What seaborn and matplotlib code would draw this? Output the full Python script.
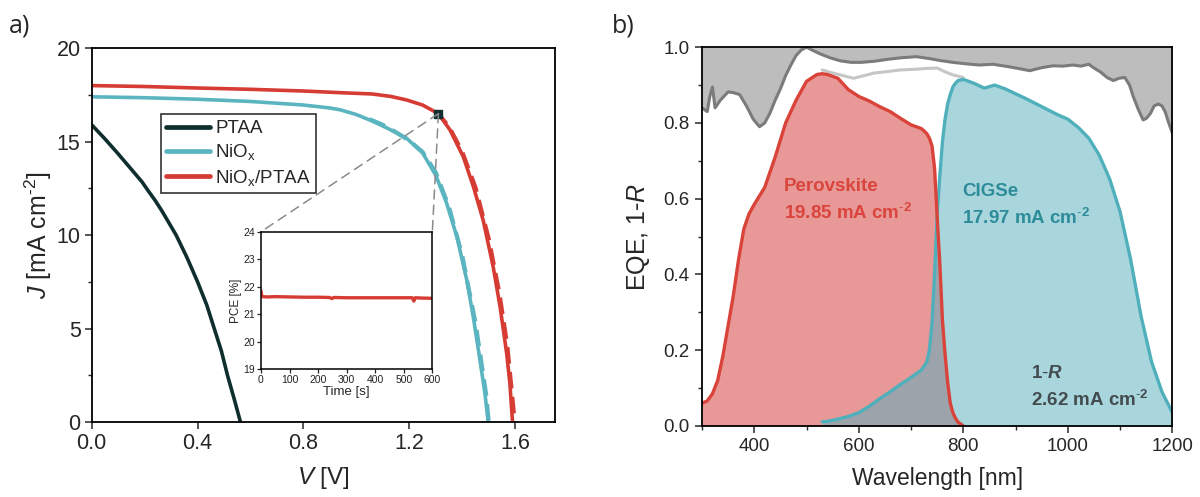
import numpy as np
import seaborn as sns
import matplotlib.pyplot as plt
from matplotlib.patches import ConnectionPatch
from matplotlib.ticker import MultipleLocator

# ---- panel a: J-V curves ----
v_ptaa = [0, 0.03, 0.05, 0.1, 0.13, 0.163, 0.19, 0.212, 0.24, 0.265, 0.29, 0.319, 0.36, 0.40, 0.435, 0.463,
          0.49, 0.513, 0.539, 0.562]
j_ptaa = [15.9, 15.45, 15.15, 14.35, 13.85, 13.3, 12.85, 12.4, 11.85, 11.3, 10.7, 10.0, 8.8, 7.5, 6.25, 5.0,
          3.8, 2.5, 1.2, 0.0]

v_niox = [0, 0.2, 0.4, 0.6, 0.8, 0.9, 0.94, 1.0, 1.06, 1.12, 1.19, 1.25, 1.30, 1.34, 1.38, 1.417, 1.442, 1.467, 1.486, 1.498]
j_niox = [17.4, 17.35, 17.27, 17.15, 16.96, 16.8, 16.7, 16.45, 16.1, 15.7, 15.18, 14.4, 13.2, 11.75, 9.9, 7.6, 5.6, 3.3, 1.5, 0.0]
v_niox_rev = [1.05, 1.1, 1.15, 1.2, 1.25, 1.3, 1.35, 1.4, 1.45, 1.49, 1.5]
j_niox_rev = [16.2, 15.9, 15.5, 15.05, 14.45, 13.35, 11.5, 8.9, 5.3, 1.5, 0.0]

v_both = [0, 0.2, 0.4, 0.6, 0.8, 0.94, 1.06, 1.13, 1.19, 1.25, 1.31, 1.354, 1.404, 1.442, 1.479, 1.517, 1.543, 1.568, 1.58, 1.59]
j_both = [18.0, 17.95, 17.87, 17.8, 17.71, 17.62, 17.55, 17.42, 17.23, 16.96, 16.5, 15.62, 14.19, 12.6, 10.8, 8.3, 6.16, 3.66, 2.06, 0.0]
v_both_rev = [1.3, 1.35, 1.4, 1.45, 1.5, 1.54, 1.57, 1.59, 1.598]
j_both_rev = [16.65, 15.8, 14.45, 12.55, 9.8, 6.9, 4.1, 1.2, 0.0]

mpp_v, mpp_j = 1.31, 16.5

# inset: stabilized PCE
t_pce = [0, 2, 5, 20, 50, 100, 150, 200, 240, 248, 255, 300, 350, 400, 450, 500, 530, 535, 540, 560, 600]
pce = [21.85, 21.7, 21.64, 21.63, 21.64, 21.63, 21.62, 21.62, 21.61, 21.57, 21.61, 21.6, 21.6, 21.6, 21.6,
       21.6, 21.6, 21.48, 21.6, 21.59, 21.58]

# ---- panel b: EQE ----
wl = [300, 310, 320, 330, 340, 350, 360, 370, 380, 390, 400, 420, 440, 460, 480, 500, 520, 530, 540, 560,
      580, 600, 620, 640, 660, 680, 700, 710, 720, 730, 735, 740, 745, 750, 755, 760, 765, 770, 775, 780,
      785, 790, 800, 820, 840, 860, 880, 900, 920, 940, 960, 980, 1000, 1020, 1040, 1060, 1080, 1100,
      1120, 1140, 1160, 1180, 1200]
nan = np.nan
eqe_pero = [0.060, 0.066, 0.085, 0.12, 0.185, 0.265, 0.345, 0.44, 0.52, 0.56, 0.585, 0.63, 0.71, 0.80,
            0.86, 0.91, 0.928, 0.93, 0.928, 0.918, 0.888, 0.87, 0.858, 0.843, 0.83, 0.812, 0.795, 0.79,
            0.785, 0.772, 0.76, 0.74, 0.68, 0.55, 0.43, 0.28, 0.19, 0.115, 0.06, 0.035, 0.02, 0.01, 0.0,
            nan, nan, nan, nan, nan, nan, nan, nan, nan, nan, nan, nan, nan, nan, nan, nan, nan, nan, nan, nan]
eqe_cigs = [nan, nan, nan, nan, nan, nan, nan, nan, nan, nan, nan, nan, nan, nan, nan, nan, nan,
            0.011, 0.012, 0.018, 0.025, 0.035, 0.052, 0.072, 0.09, 0.11, 0.128, 0.138, 0.148, 0.168, 0.2,
            0.27, 0.40, 0.56, 0.66, 0.75, 0.81, 0.85, 0.875, 0.895, 0.905, 0.912, 0.915, 0.905, 0.892,
            0.90, 0.89, 0.877, 0.864, 0.85, 0.836, 0.822, 0.81, 0.788, 0.76, 0.715, 0.652, 0.565, 0.44,
            0.29, 0.17, 0.09, 0.035]

wl_r = [300, 305, 310, 315, 320, 325, 335, 350, 360, 372, 385, 398, 410, 420, 430, 440, 450, 460, 470, 480,
        490, 500, 510, 525, 545, 565, 585, 605, 630, 655, 680, 710, 735, 755, 780, 806, 830, 857, 880, 905,
        927, 950, 972, 990, 1010, 1025, 1040, 1050, 1062, 1075, 1087, 1098, 1109, 1118, 1125, 1135, 1144,
        1150, 1158, 1165, 1173, 1180, 1186, 1193, 1200]
one_minus_r = [0.84, 0.835, 0.83, 0.87, 0.895, 0.84, 0.86, 0.882, 0.88, 0.875, 0.845, 0.81, 0.79, 0.80,
               0.826, 0.86, 0.89, 0.925, 0.953, 0.978, 0.993, 1.0, 0.993, 0.983, 0.972, 0.964, 0.96, 0.96,
               0.963, 0.968, 0.972, 0.975, 0.97, 0.965, 0.96, 0.956, 0.953, 0.955, 0.95, 0.944, 0.938,
               0.946, 0.951, 0.95, 0.953, 0.95, 0.955, 0.945, 0.935, 0.92, 0.912, 0.918, 0.92, 0.9, 0.87,
               0.835, 0.808, 0.812, 0.825, 0.845, 0.85, 0.845, 0.83, 0.8, 0.773]

wl_sum = [530, 550, 570, 590, 610, 630, 650, 680, 710, 730, 750, 765, 780, 800]
eqe_sum = [0.94, 0.932, 0.925, 0.918, 0.925, 0.932, 0.935, 0.94, 0.942, 0.944, 0.945, 0.935, 0.927, 0.92]

c_ptaa = "#0f2e2e"
c_niox = "#5bb5c0"
c_red = "#d63c33"

sns.set_theme(style="ticks")
plt.rcParams['font.family'] = ['Liberation Sans', 'DejaVu Sans']
plt.rcParams['mathtext.fontset'] = 'custom'
plt.rcParams['mathtext.rm'] = 'Liberation Sans'
plt.rcParams['mathtext.it'] = 'Liberation Sans:italic'
plt.rcParams['mathtext.bf'] = 'Liberation Sans:bold'
plt.rcParams['mathtext.bfit'] = 'Liberation Sans:italic:bold'

fig = plt.figure(figsize=(12, 4.97), dpi=100)
ax1 = fig.add_axes([0.0764, 0.151, 0.386, 0.752])
ax2 = fig.add_axes([0.585, 0.143, 0.392, 0.762])
axi = fig.add_axes([0.2175, 0.2569, 0.1428, 0.2769])

# panel a
sns.lineplot(x=v_niox_rev, y=j_niox_rev, ax=ax1, color=c_niox, lw=3.0, ls=(0, (4, 2)), sort=False)
sns.lineplot(x=v_both_rev, y=j_both_rev, ax=ax1, color=c_red, lw=3.0, ls=(0, (4, 2)), sort=False)
sns.lineplot(x=v_ptaa, y=j_ptaa, ax=ax1, color=c_ptaa, lw=2.6, label="PTAA", sort=False)
sns.lineplot(x=v_niox, y=j_niox, ax=ax1, color=c_niox, lw=2.6, label=r"NiO$_{\mathrm{x}}$", sort=False)
sns.lineplot(x=v_both, y=j_both, ax=ax1, color=c_red, lw=2.6, label=r"NiO$_{\mathrm{x}}$/PTAA", sort=False)
ax1.plot([mpp_v], [mpp_j], marker="s", ms=6, color="#0f2e2e", zorder=5)

ax1.set_xlim(0, 1.75)
ax1.set_ylim(0, 20)
ax1.set_xticks([0, 0.4, 0.8, 1.2, 1.6])
ax1.set_xticklabels(["0.0", "0.4", "0.8", "1.2", "1.6"])
ax1.set_yticks([0, 5, 10, 15, 20])
ax1.yaxis.set_minor_locator(MultipleLocator(2.5))
ax1.tick_params(axis="both", which="major", direction="out", length=5, width=1.1, labelsize=15.5, pad=3)
ax1.tick_params(axis="y", which="minor", direction="out", length=3, width=1.0)
for s in ax1.spines.values():
    s.set_linewidth(1.3)
    s.set_color("black")
ax1.set_xlabel("$V$ [V]", fontsize=17.5, labelpad=8)
ax1.set_ylabel(r"$J$ [mA cm$^{\text{-}2}$]", fontsize=18, labelpad=2)
leg = ax1.legend(loc="upper left", bbox_to_anchor=(0.149, 0.823), fontsize=13.5, frameon=True,
                 fancybox=False, edgecolor="black", handlelength=2.35, handletextpad=0.25,
                 borderpad=0.3, labelspacing=0.28, borderaxespad=0)
leg.get_frame().set_linewidth(1.2)
for h in leg.get_lines():
    h.set_linewidth(3.4)

# inset
sns.lineplot(x=t_pce, y=pce, ax=axi, color=c_red, lw=2.4, sort=False)
axi.set_xlim(0, 600)
axi.set_ylim(19, 24)
axi.set_xticks([0, 100, 200, 300, 400, 500, 600])
axi.set_yticks([19, 20, 21, 22, 23, 24])
axi.tick_params(direction="out", length=3, width=0.9, labelsize=7.5, pad=1, colors="#222222")
for s in axi.spines.values():
    s.set_linewidth(1.1)
    s.set_color("black")
axi.set_xlabel("Time [s]", fontsize=9.5, labelpad=1)
axi.set_ylabel("PCE [%]", fontsize=8.5, labelpad=1)

for xa in (0, 1):
    con = ConnectionPatch(xyA=(mpp_v, mpp_j), coordsA=ax1.transData, xyB=(xa, 1), coordsB=axi.transAxes,
                          color="#8a8a8a", lw=1.1, ls=(0, (6, 4)), zorder=1)
    fig.add_artist(con)

# panel b
pero = np.array(eqe_pero)
cigs = np.array(eqe_cigs)
ax2.fill_between(wl_r, one_minus_r, 1.0, color="#bdbdbd", lw=0)
ax2.fill_between(wl, 0, pero, color="#e99898", lw=0)
ax2.fill_between(wl, 0, cigs, color="#a9d6dd", lw=0)
ax2.fill_between(wl, 0, np.minimum(pero, cigs), color="#9da3ab", lw=0)
sns.lineplot(x=wl_r, y=one_minus_r, ax=ax2, color="#7b7b7b", lw=2.2, sort=False)
sns.lineplot(x=wl_sum, y=eqe_sum, ax=ax2, color="#c6c6c6", lw=2.2, sort=False)
sns.lineplot(x=wl, y=eqe_cigs, ax=ax2, color="#4fb0bb", lw=2.4, sort=False)
sns.lineplot(x=wl, y=eqe_pero, ax=ax2, color="#d9433a", lw=2.4, sort=False)

ax2.set_xlim(300, 1200)
ax2.set_ylim(0, 1.0)
ax2.set_xticks([400, 600, 800, 1000, 1200])
ax2.xaxis.set_minor_locator(MultipleLocator(100))
ax2.set_yticks([0, 0.2, 0.4, 0.6, 0.8, 1.0])
ax2.set_yticklabels(["0.0", "0.2", "0.4", "0.6", "0.8", "1.0"])
ax2.yaxis.set_minor_locator(MultipleLocator(0.1))
ax2.tick_params(axis="both", which="major", direction="out", length=5, width=1.1, labelsize=13.5, pad=4)
ax2.tick_params(axis="both", which="minor", direction="out", length=3, width=1.0)
for s in ax2.spines.values():
    s.set_linewidth(1.3)
    s.set_color("black")
ax2.set_xlabel("Wavelength [nm]", fontsize=16.5, labelpad=8)
ax2.set_ylabel("EQE, 1-$R$", fontsize=18, labelpad=8)

tkw = dict(fontsize=13.5, fontweight="bold", va="center")
sup = r"$^{\mathbf{\text{-}2}}$"
ax2.text(456, 0.632, "Perovskite", color="#d9453c", **tkw)
ax2.text(456, 0.562, "19.85 mA cm" + sup, color="#d9453c", **tkw)
ax2.text(798, 0.619, "CIGSe", color="#2c8c99", **tkw)
ax2.text(798, 0.548, "17.97 mA cm" + sup, color="#2c8c99", **tkw)
ax2.text(930, 0.139, r"$\mathbf{1\text{-}}\mathbfit{R}$", color="#434b4f", **tkw)
ax2.text(930, 0.069, "2.62 mA cm" + sup, color="#434b4f", **tkw)

fig.text(0.007, 0.935, "a)", fontsize=18, family=["Open Sans", "DejaVu Sans"])
fig.text(0.51, 0.935, "b)", fontsize=18, family=["Open Sans", "DejaVu Sans"])

fig.savefig("out.png", dpi=100)
